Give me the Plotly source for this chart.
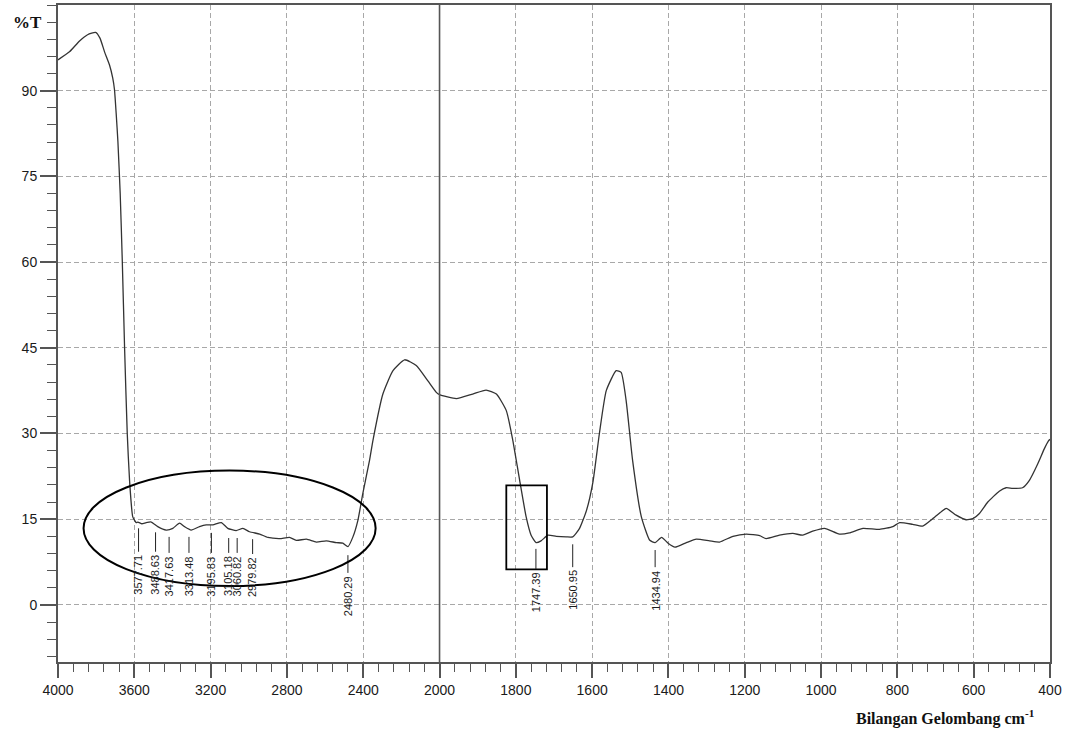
import numpy as np
import plotly.graph_objects as go

# ---------------- data ----------------
wavenumber = [
    4000, 3940, 3887, 3845, 3803, 3780, 3756, 3730, 3713, 3704,
    3695, 3686, 3674, 3663, 3651, 3637, 3625, 3608, 3590, 3581,
    3560, 3538, 3511, 3477, 3433, 3398, 3363, 3337, 3302, 3258,
    3223, 3188, 3144, 3110, 3066, 3031, 2996, 2943, 2900, 2838,
    2786, 2751, 2698, 2646, 2594, 2541, 2507, 2480, 2454, 2428,
    2402, 2367, 2349, 2297, 2244, 2183, 2122, 2061, 2017, 2000,
    1956, 1913, 1878, 1851, 1825, 1808, 1790, 1773, 1760, 1747,
    1734, 1716, 1694, 1668, 1651, 1633, 1615, 1598, 1581, 1563,
    1537, 1524, 1511, 1494, 1471, 1449, 1435, 1418, 1401, 1383,
    1353, 1327, 1292, 1266, 1231, 1196, 1161, 1144, 1109, 1074,
    1048, 1022, 991, 952, 926, 890, 847, 812, 794, 760,
    734, 707, 685, 672, 646, 620, 602, 585, 563, 533,
    515, 498, 472, 454, 432, 415, 404, 400,
]
transmittance = [
    95.4, 96.8, 98.7, 99.8, 100.2, 99.2, 96.8, 94.5, 92.2, 90.2,
    86.0, 81.1, 72.0, 60.2, 45.0, 30.0, 21.8, 15.4, 14.4, 14.5,
    14.2, 14.4, 14.5, 13.7, 13.1, 13.4, 14.3, 13.7, 13.1, 13.7,
    14.0, 14.0, 14.4, 13.4, 13.0, 13.4, 12.8, 12.4, 11.8, 11.6,
    11.8, 11.3, 11.5, 11.0, 11.2, 10.9, 10.8, 10.2, 11.9, 14.8,
    19.5, 25.3, 28.8, 36.9, 41.0, 42.9, 41.9, 39.2, 37.2, 36.8,
    36.1, 36.9, 37.6, 36.9, 34.0, 28.8, 21.8, 15.4, 12.2, 10.9,
    11.2, 12.2, 12.0, 11.9, 11.9, 13.4, 16.5, 21.5, 30.0, 37.5,
    41.0, 40.7, 35.8, 25.3, 15.4, 11.3, 10.9, 11.8, 10.8, 10.1,
    10.9, 11.5, 11.2, 11.0, 12.0, 12.4, 12.1, 11.6, 12.2, 12.5,
    12.2, 12.9, 13.4, 12.4, 12.6, 13.4, 13.2, 13.7, 14.4, 14.1,
    13.8, 15.1, 16.3, 16.9, 15.7, 14.9, 15.1, 16.0, 18.0, 19.9,
    20.5, 20.4, 20.5, 21.8, 24.7, 27.3, 28.7, 29.0,
]
assert len(wavenumber) == len(transmittance)

x_tick_labels = [4000, 3600, 3200, 2800, 2400, 2000, 1800, 1600, 1400,
                 1200, 1000, 800, 600, 400]
y_tick_values = [0, 15, 30, 45, 60, 75, 90]

peak_wn = [3577.71, 3488.63, 3417.63, 3313.48, 3195.83, 3105.18, 3060.82,
           2979.82, 2480.29, 1747.39, 1650.95, 1434.94]
peak_labels = ["3577.71", "3488.63", "3417.63", "3313.48", "3195.83",
               "3105.18", "3060.82", "2979.82", "2480.29", "1747.39",
               "1650.95", "1434.94"]
# leader line extents and label centres in %T units
peak_line_top = [13.4, 12.7, 11.9, 11.9, 12.6, 11.7, 11.7, 11.5, 8.7, 9.8, 10.6, 9.6]
peak_line_bot = [9.3, 9.3, 9.1, 9.1, 9.1, 9.1, 9.1, 8.9, 5.6, 6.3, 6.6, 6.6]
peak_label_y = [5.2, 5.2, 5.0, 5.0, 5.0, 5.0, 5.0, 4.8, 1.5, 2.2, 2.6, 2.5]

# highlight marks (wavenumber / %T extents)
ellipse_wn = (3866, 2335)
ellipse_t = (3.3, 23.5)
rect_wn = (1825, 1718.5)
rect_t = (6.2, 20.9)

Y_RANGE = [-10, 105]


# ---------------- axis transform: scale doubles below 2000 cm-1 ----------------
def to_pos(w):
    w = np.asarray(w, dtype=float)
    return np.where(w >= 2000, 4000 - w, 2000 + 2 * (2000 - w))


AXC = "#555555"
TXT = "#1a1a1a"

fig = go.Figure()
fig.add_trace(go.Scatter(
    x=to_pos(wavenumber), y=transmittance, mode="lines",
    line=dict(color="#333333", width=1.3, shape="spline", smoothing=0.5),
    hoverinfo="skip", showlegend=False,
))

# leader lines for the peak labels (vertical segments)
lx, ly = [], []
for w, yt, yb in zip(peak_wn, peak_line_top, peak_line_bot):
    px = float(to_pos(w))
    lx += [px, px, None]
    ly += [yt, yb, None]
fig.add_trace(go.Scatter(
    x=lx, y=ly, mode="lines", line=dict(color="#222222", width=1),
    hoverinfo="skip", showlegend=False, connectgaps=False,
))

shapes = []
# solid separator at 2000
shapes.append(dict(type="line", xref="x", yref="paper",
                   x0=float(to_pos(2000)), x1=float(to_pos(2000)), y0=0, y1=1,
                   line=dict(color=AXC, width=1.6), layer="above"))
# ellipse
shapes.append(dict(type="circle", xref="x", yref="y",
                   x0=float(to_pos(ellipse_wn[0])), x1=float(to_pos(ellipse_wn[1])),
                   y0=ellipse_t[0], y1=ellipse_t[1],
                   line=dict(color="black", width=2), layer="above"))
# rectangle
shapes.append(dict(type="rect", xref="x", yref="y",
                   x0=float(to_pos(rect_wn[0])), x1=float(to_pos(rect_wn[1])),
                   y0=rect_t[0], y1=rect_t[1],
                   line=dict(color="black", width=1.8), layer="above"))

annotations = []
for w, lab, yl in zip(peak_wn, peak_labels, peak_label_y):
    px = float(to_pos(w))
    annotations.append(dict(x=px, y=yl, xref="x", yref="y", text=lab,
                            textangle=-90, showarrow=False, xanchor="center",
                            yanchor="middle",
                            font=dict(family="Liberation Sans, Arial", size=11,
                                      color=TXT)))

annotations.append(dict(xref="paper", yref="y", x=-0.031, y=102, text="<b>%T</b>",
                        showarrow=False, xanchor="center", yanchor="middle",
                        font=dict(family="Liberation Serif, Times New Roman",
                                  size=17, color="#111111")))
annotations.append(dict(xref="paper", yref="paper", x=0.987, y=-0.085,
                        text="<b>Bilangan Gelombang cm<sup>-1</sup></b>",
                        showarrow=False, xanchor="right", yanchor="middle",
                        font=dict(family="Liberation Serif, Times New Roman",
                                  size=16, color="#111111")))

fig.update_layout(
    width=1070, height=734,
    margin=dict(l=58, r=20, t=5, b=72, autoexpand=False),
    paper_bgcolor="white", plot_bgcolor="white",
    shapes=shapes, annotations=annotations,
    showlegend=False,
)

fig.update_xaxes(
    range=[0, float(to_pos(400))],
    tickmode="array",
    tickvals=to_pos(x_tick_labels).tolist(),
    ticktext=[str(v) for v in x_tick_labels],
    ticks="outside", ticklen=14, tickwidth=1.5, tickcolor=AXC,
    tickfont=dict(family="Liberation Sans, Arial", size=14, color=TXT),
    showline=True, linecolor=AXC, linewidth=2, mirror=True,
    showgrid=True, gridcolor="#a8a8a8", gridwidth=1, griddash="5px,3px",
    zeroline=False, automargin=False,
    minor=dict(tickmode="linear", tick0=0, dtick=80, ticks="outside",
               ticklen=8, tickwidth=1.2, tickcolor=AXC, showgrid=False),
)
fig.update_yaxes(
    range=Y_RANGE,
    tickmode="array", tickvals=y_tick_values,
    ticktext=[str(v) for v in y_tick_values],
    ticks="outside", ticklen=16, tickwidth=1.5, tickcolor=AXC,
    tickfont=dict(family="Liberation Sans, Arial", size=14, color=TXT),
    showline=True, linecolor=AXC, linewidth=2, mirror=True,
    showgrid=True, gridcolor="#a8a8a8", gridwidth=1, griddash="5px,3px",
    zeroline=False, automargin=False,
    minor=dict(tickmode="linear", tick0=0, dtick=3, ticks="outside",
               ticklen=9, tickwidth=1.2, tickcolor=AXC, showgrid=False),
)

fig.write_html("out.html",
               config={"displayModeBar": False},
               post_script="document.body.style.margin='0px';"
                           "document.body.style.overflow='hidden';")
